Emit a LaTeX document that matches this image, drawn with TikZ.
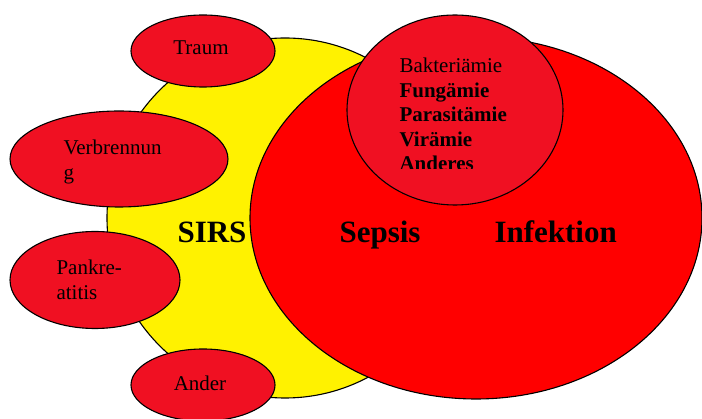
\documentclass[tikz,border=0pt]{standalone}
\usepackage{fontspec}
\setmainfont{Liberation Serif}
\usetikzlibrary{positioning, shapes.geometric}
\definecolor{ovalred}{RGB}{240,16,34}

\begin{document}
\begin{tikzpicture}[x=1pt, y=-1pt, line width=1.1pt,
  ov/.style={ellipse, draw, fill=ovalred, inner sep=0pt},
  txt/.style={font=\fontsize{21}{24.5}\selectfont, inner sep=0pt,
              anchor=base west, align=left},
  big/.style={font=\fontsize{31}{36}\selectfont\bfseries, inner sep=0pt,
              anchor=base west}]
\useasboundingbox (0,0) rectangle (702,419);
% Large areas.
\draw[fill=yellow] (285,218) ellipse [x radius=178, y radius=180];
\draw[fill=red] (476,218) ellipse [x radius=226, y radius=181];
\node[ov, minimum width=216, minimum height=190] (bakt) at (455,110) {};
% Causes on the left.
\node[ov, minimum width=144, minimum height=72] (traum) at (203,51) {};
\node[ov, minimum width=218, minimum height=96] (verbr) at (119,159) {};
\node[ov, minimum width=170, minimum height=97] (pankr) at (95,280) {};
\node[ov, minimum width=144, minimum height=72] (ander) at (203,385) {};
% Labels (base anchor sits on the last line).
\node[txt, anchor=base] (traumlbl) at (201,55) {Traum};
\node[txt] (verbrlbl) at (63,179.5) {Verbrennun\\g};
\node[txt] (pankrlbl) at (56,299.5) {Pankre-\\atitis};
\node[txt, anchor=base] (anderlbl) at (200,391) {Ander};
\begin{scope}
  \clip (380,0) rectangle (560,169);
  \node[txt] (baktlbl) at (399,171)
    {Bakteriämie\\\textbf{Fungämie}\\\textbf{Parasitämie}\\\textbf{Virämie}\\\textbf{Anderes}};
\end{scope}
\node[big] (sirs) at (177,243) {SIRS};
\node[big] (sepsis) at (339,243) {Sepsis};
\node[big] (infekt) at (494,243) {Infektion};
\end{tikzpicture}
\end{document}
